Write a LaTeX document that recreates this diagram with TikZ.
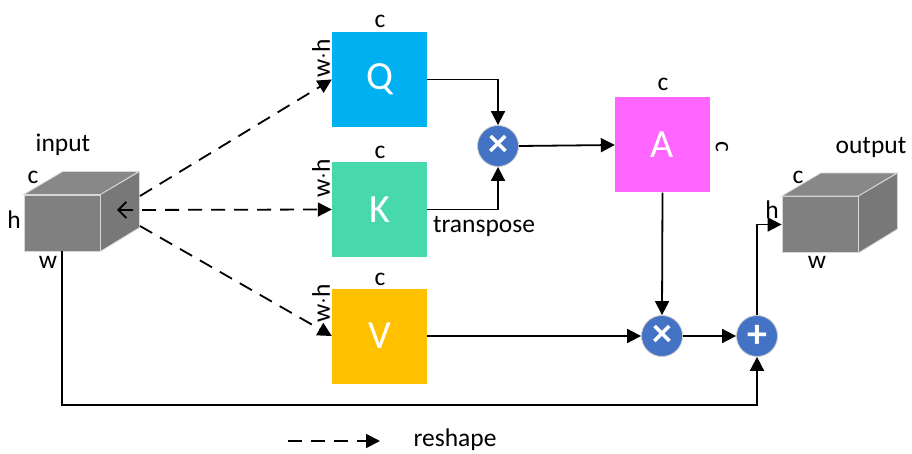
\documentclass[tikz,border=0pt]{standalone}
\usepackage{fontspec}
\setmainfont{Carlito}
\usetikzlibrary{arrows.meta}
\definecolor{qcol}{RGB}{0,176,240}
\definecolor{kcol}{RGB}{71,217,172}
\definecolor{vcol}{RGB}{255,192,0}
\definecolor{acol}{RGB}{255,102,255}
\definecolor{opblue}{RGB}{68,114,196}
\definecolor{cubefront}{RGB}{128,128,128}
\definecolor{cubetop}{RGB}{136,136,136}
\definecolor{cubeside}{RGB}{120,120,120}
\definecolor{cubeedge}{RGB}{215,215,215}
\begin{document}
\begin{tikzpicture}[x=1pt,y=-1pt,
  box/.style={minimum width=95pt,minimum height=95pt,inner sep=0pt,text=white,font=\fontsize{40}{42}\selectfont},
  op/.style={circle,fill=opblue,draw=gray!40,line width=0.8pt,minimum size=41pt,inner sep=0pt,text=white,font=\fontsize{40}{40}\selectfont\bfseries},
  lbl/.style={font=\fontsize{25.5}{27}\selectfont,inner sep=0pt},
  cubebox/.style={fill=cubefront,draw=cubeedge,line width=0.8pt,minimum width=76pt,minimum height=56pt,inner sep=0pt},
  conn/.style={line width=1.8pt,-{Triangle[length=14pt,width=14pt]}},
  dashconn/.style={conn,dash pattern=on 14pt off 9pt}
]
\useasboundingbox (0,0) rectangle (912,454);

% input cube
\node[cubebox] (in) at (62,223) {};
\filldraw[fill=cubetop,draw=cubeedge,line width=0.8pt] (in.north west) -- ++(39,-23) -- ++(76,0) -- (in.north east) -- cycle;
\filldraw[fill=cubeside,draw=cubeedge,line width=0.8pt] (in.north east) -- ++(39,-23) -- ++(0,56) -- (in.south east) -- cycle;
\node[lbl] (inlbl) at (63,145) {input};
\node[lbl] (inc) at (33,177) {c};
\node[lbl] (inh) at (14,220) {h};
\node[lbl] (inw) at (48,262) {w};

% output cube
\node[cubebox] (out) at (820,224.5) {};
\filldraw[fill=cubetop,draw=cubeedge,line width=0.8pt] (out.north west) -- ++(39,-23) -- ++(76,0) -- (out.north east) -- cycle;
\filldraw[fill=cubeside,draw=cubeedge,line width=0.8pt] (out.north east) -- ++(39,-23) -- ++(0,56) -- (out.south east) -- cycle;
\node[lbl] (outlbl) at (871,147) {output};
\node[lbl] (outc) at (798,177) {c};
\node[lbl] (outh) at (772,210) {h};
\node[lbl] (outw) at (817,262) {w};

% boxes
\node[box,fill=qcol] (Q) at (379.5,79.5) {Q};
\node[box,fill=kcol] (K) at (379.5,209.5) {K};
\node[box,fill=vcol] (V) at (379.5,336) {V};
\node[box,fill=acol] (A) at (662.5,145) {A};

\node[lbl] (Qc) at (380,21) {c};
\node[lbl,rotate=90] (Qwh) at (321,58) {w$\cdot$h};
\node[lbl] (Kc) at (380,152) {c};
\node[lbl,rotate=90] (Kwh) at (321,178) {w$\cdot$h};
\node[lbl] (Vc) at (380,279) {c};
\node[lbl,rotate=90] (Vwh) at (321,303) {w$\cdot$h};
\node[lbl] (Ac) at (663,84) {c};
\node[lbl,rotate=-90] (Ac2) at (722,147) {c};
\node[lbl] (tr) at (484,226) {transpose};

% operators
\node[op] (m1) at (498,146) {×};
\node[op] (m2) at (662,336) {×};
\node[op] (p) at (757,336) {+};

% connectors
\draw[conn] (Q.east) -| (m1.north);
\draw[conn] (K.east) -| (m1.south);
\draw[conn] (m1.east) -- (A.west);
\draw[conn] (A.south) -- (m2.north);
\draw[conn] (V.east) -- (m2.west);
\draw[conn] (m2.east) -- (p.west);
\draw[conn] (p.north) |- (out.west);
\coordinate (bot) at (62,405);
\draw[conn] (in.south) -- (bot) -| (p.south);

% reshape (dashed)
\coordinate (s1) at (140,196);
\coordinate (s2) at (117,210);
\coordinate (s3) at (140,226);
\draw[dashconn] (s1) -- (Q.west);
\draw[dashconn,{Straight Barb[length=8pt,width=16pt]}-{Triangle[length=14pt,width=14pt]}] (s2) -- (K.west);
\draw[dashconn] (s3) -- (V.west);

% legend
\coordinate (leg1) at (288,441);
\coordinate (leg2) at (380,441);
\draw[dashconn] (leg1) -- (leg2);
\node[lbl] (reshape) at (455,440) {reshape};
\end{tikzpicture}
\end{document}
